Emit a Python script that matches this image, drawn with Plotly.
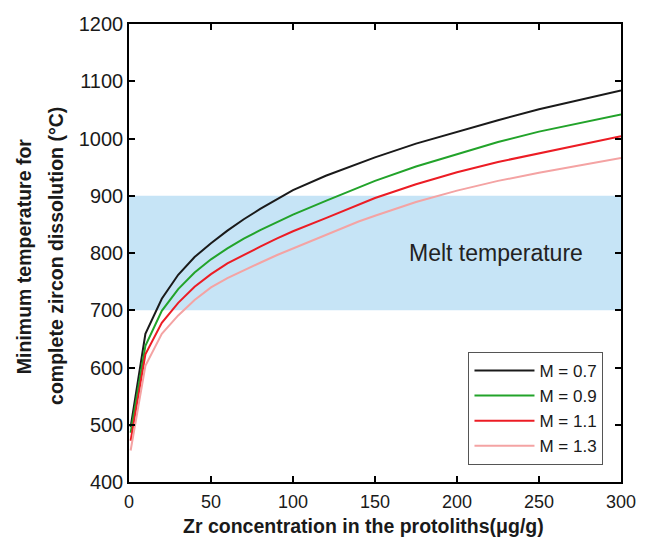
import plotly.graph_objects as go

# Zr content of the protolith (ug/g)
zr = [1, 10, 20, 30, 40, 50, 60, 70, 80, 90, 100, 120, 140, 150, 175, 200, 225, 250, 275, 300]

# Minimum temperature for complete zircon dissolution (deg C) for each M value
t_m07 = [496, 659, 720, 762, 793, 817, 839, 859, 877, 894, 910, 935, 957, 967, 991, 1012, 1032, 1051, 1068, 1084]
t_m09 = [486, 638, 699, 737, 766, 789, 808, 825, 840, 854, 867, 891, 915, 926, 951, 973, 994, 1012, 1027, 1042]
t_m11 = [472, 623, 678, 713, 741, 763, 782, 797, 811, 825, 838, 861, 884, 896, 920, 941, 959, 974, 989, 1004]
t_m13 = [455, 603, 659, 691, 718, 740, 756, 770, 783, 796, 808, 832, 855, 865, 889, 909, 926, 940, 953, 966]

series = [
    ("M = 0.7", t_m07, "#1a1a1a"),
    ("M = 0.9", t_m09, "#22a32a"),
    ("M = 1.1", t_m11, "#ec1c24"),
    ("M = 1.3", t_m13, "#f4a3a3"),
]

melt_band = (700, 900)
x_range = [0, 300]
y_range = [400, 1200]
x_ticks = [0, 50, 100, 150, 200, 250, 300]
y_ticks = [400, 500, 600, 700, 800, 900, 1000, 1100, 1200]

FONT = "Liberation Sans, Arial, sans-serif"

fig = go.Figure()
for name, temps, color in series:
    fig.add_trace(go.Scatter(x=zr, y=temps, mode="lines", name=name,
                             line=dict(color=color, width=2)))

# melt temperature window
fig.add_shape(type="rect", xref="x", yref="y", x0=x_range[0], x1=x_range[1],
              y0=melt_band[0], y1=melt_band[1], fillcolor="#c6e4f6",
              line=dict(width=0), layer="below")
fig.add_annotation(x=224, y=800, xref="x", yref="y", text="Melt temperature",
                   showarrow=False, font=dict(family=FONT, size=23, color="#222222"))

axis_common = dict(showgrid=False, zeroline=False, showline=True, linecolor="black",
                   linewidth=1.5, mirror="ticks", ticks="inside", ticklen=6,
                   tickwidth=1.5, tickcolor="black")

fig.update_xaxes(range=x_range, tickvals=x_ticks, ticklabelstandoff=3,
                 tickfont=dict(family=FONT, size=18, color="#1a1a1a"), **axis_common)
fig.update_yaxes(range=y_range, tickvals=y_ticks,
                 tickfont=dict(family=FONT, size=20, color="#1a1a1a"), **axis_common)

# axis titles
bold = dict(family=FONT, size=19.5, color="#1a1a1a")
fig.add_annotation(text="<b>Zr concentration in the protoliths(μg/g)</b>", xref="paper",
                   yref="paper", x=0.477, y=-0.096, xanchor="center", yanchor="middle",
                   showarrow=False, font=bold)
fig.add_annotation(text="<b>Minimum temperature for</b>", xref="paper", yref="paper",
                   x=-0.2135, y=0.493, xanchor="center", yanchor="middle",
                   textangle=-90, showarrow=False, font=bold)
fig.add_annotation(text="<b>complete zircon dissolution (°C)</b>", xref="paper",
                   yref="paper", x=-0.147, y=0.493, xanchor="center", yanchor="middle",
                   textangle=-90, showarrow=False, font=bold)

fig.update_layout(
    width=648, height=544,
    margin=dict(l=129, r=22, t=24, b=62),
    paper_bgcolor="white", plot_bgcolor="white",
    font=dict(family=FONT),
    legend=dict(x=0.69, y=0.284, xanchor="left", yanchor="top",
                bgcolor="white", bordercolor="#555555", borderwidth=1,
                itemwidth=60, font=dict(family=FONT, size=17, color="#1a1a1a")),
)

fig.write_html("out.html")
